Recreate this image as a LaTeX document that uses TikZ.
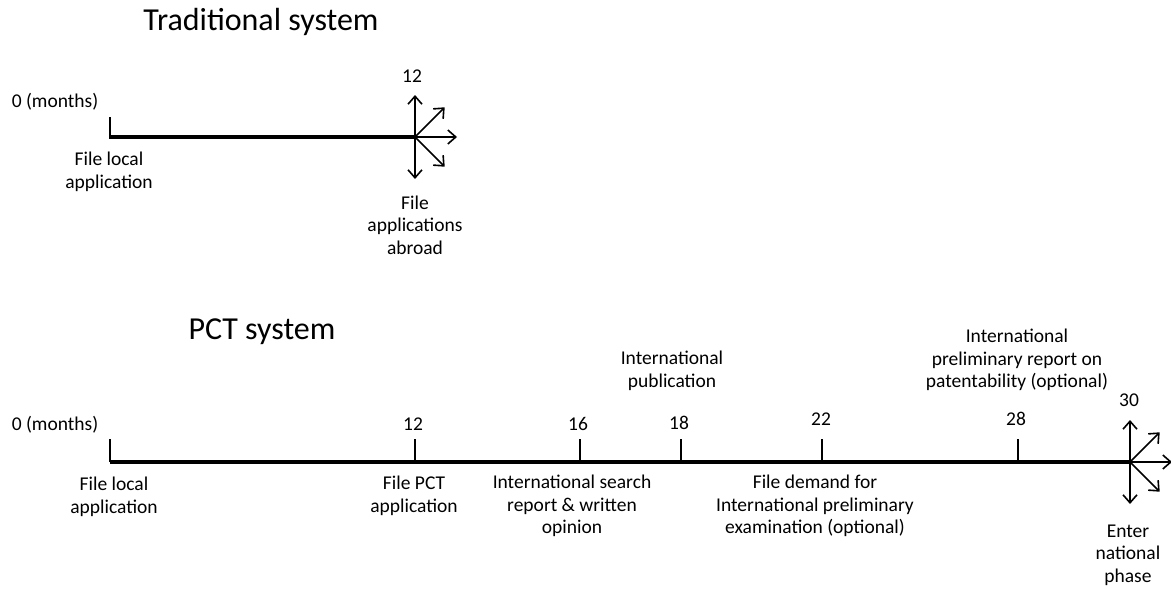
\documentclass[tikz,border=0pt]{standalone}
\usepackage{fontspec}
\setmainfont{Carlito}
\usetikzlibrary{arrows.meta}
\begin{document}
\begin{tikzpicture}[x=1pt,y=-1pt,
  lbl/.style={font=\fontsize{19.5}{22.5}\selectfont, align=center, inner sep=0pt},
  ttl/.style={font=\fontsize{32}{36}\selectfont, inner sep=0pt},
  axis/.style={line width=4pt},
  tickmark/.style={line width=2.6pt},
  burst/.style={line width=1.6pt, -{Straight Barb[length=8pt,width=14pt,line width=1.6pt]}}
]
\useasboundingbox (0,0) rectangle (1171,589);

% ---------- Traditional system ----------
\node[ttl] (t1) at (261,22) {Traditional system};
\coordinate (a0) at (110,137);
\coordinate (a0top) at (110,117);
\coordinate (a12) at (415,137);
\draw[axis] (a0) -- (a12);
\draw[tickmark] (a0top) -- ([yshift=-2pt]a0);
\foreach \ang in {90,45,0,-45,-90}
  \draw[burst] (a12) -- ++(\ang:42);
\node[lbl] (a0lab) at (55,102) {0 (months)};
\node[lbl] (a12lab) at (412,76) {12};
\node[lbl] (a0txt) at (109,172) {File local\\application};
\node[lbl] (a12txt) at (415,225) {File\\applications\\abroad};

% ---------- PCT system ----------
\node[ttl] (t2) at (262,332) {PCT system};
\coordinate (p0) at (110,462);
\coordinate (p30) at (1130,462);
\draw[axis] (p0) -- (p30);
\foreach \nm/\xx in {p0t/110, p12/415, p16/580, p18/681, p22/822, p28/1018}{
  \coordinate (\nm) at (\xx,462);
  \draw[tickmark] (\nm) -- ++(0,-23);
}
\foreach \ang in {90,45,0,-45,-90}
  \draw[burst] (p30) -- ++(\ang:42);

\node[lbl] (p0lab)  at (55,425)   {0 (months)};
\node[lbl] (p12lab) at (413,424)  {12};
\node[lbl] (p16lab) at (578,424)  {16};
\node[lbl] (p18lab) at (679,423)  {18};
\node[lbl] (p22lab) at (821,419)  {22};
\node[lbl] (p28lab) at (1016,419) {28};
\node[lbl] (p30lab) at (1129,400) {30};

\node[lbl] (pubtxt) at (672,371) {International\\publication};
\node[lbl] (iprptxt) at (1017,360) {International\\preliminary report on\\patentability (optional)};

\node[lbl] (p0txt)  at (114,497) {File local\\application};
\node[lbl] (p12txt) at (414,496) {File PCT\\application};
\node[lbl] (p16txt) at (572,506) {International search\\report \& written\\opinion};
\node[lbl] (p22txt) at (815,506) {File demand for\\International preliminary\\examination (optional)};
\node[lbl] (p30txt) at (1128,555) {Enter\\national\\phase};
\end{tikzpicture}
\end{document}
